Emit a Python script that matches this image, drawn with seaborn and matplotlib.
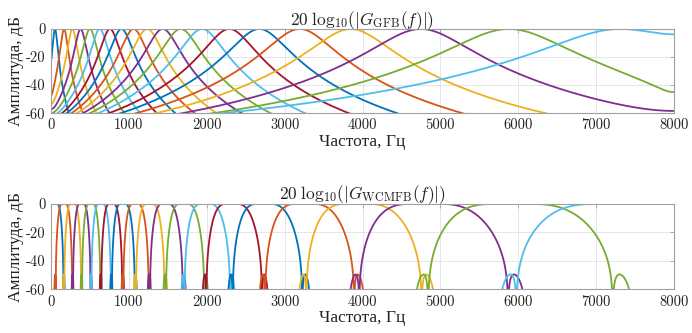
import numpy as np
import pandas as pd
import matplotlib
matplotlib.use("Agg")
import matplotlib.pyplot as plt
import seaborn as sns

# ---------------- data ----------------
fs_hz = 16000.0
gfb_centres_hz = [52, 168, 275, 380, 500, 625, 757, 905, 1060, 1235,
                  1435, 1665, 1940, 2290, 2675, 3195, 3850, 4750, 5880, 7285]
# WCMFB: 20 channels, warping coefficient
wcmfb_channels = 20
wcmfb_warp = 0.57
wcmfb_proto_len = 211
wcmfb_cutoff_bands = 0.58      # -6 dB point, in channel widths
wcmfb_window_power = 2.6       # sin^p taper of the prototype

xticks_hz = [0, 1000, 2000, 3000, 4000, 5000, 6000, 7000, 8000]
yticks_db = [-60, -40, -20, 0]
xlabel_text = "Частота, Гц"
ylabel_text = "Амплитуда, дБ"
title_top = r"$20\;\mathrm{log}_{10}(|G_{\mathrm{GFB}}(f)|)$"
title_bot = r"$20\;\mathrm{log}_{10}(|G_{\mathrm{WCMFB}}(f)|)$"

matlab_colors = ["#0072BD", "#D95319", "#EDB120", "#7E2F8E",
                 "#77AC30", "#4DBEEE", "#A2142F"]

# ---------------- responses ----------------
f = np.linspace(0, fs_hz / 2, 4001)


def gammatone_db(fc):
    b = 1.019 * (24.7 + 0.108 * fc)
    T = lambda d: (1 + 1j * d / b) ** -4
    H = np.zeros_like(f, dtype=complex)
    for m in (-1, 0, 1):
        g = f - m * fs_hz
        H += T(g - fc) + T(g + fc)
    mag = np.abs(H)
    mag /= mag.max()
    return 20 * np.log10(np.maximum(mag, 1e-12))


N = wcmfb_proto_len
L = (N - 1) // 2
n = np.arange(-L, L + 1)
t = np.arange(N)
win = np.sin(np.pi * t / (N - 1)) ** wcmfb_window_power
wc = wcmfb_cutoff_bands * np.pi / wcmfb_channels
proto = (wc / np.pi) * np.sinc(wc / np.pi * n) * win
proto /= proto.sum()


def P(theta):
    return np.cos(np.outer(theta, n)) @ proto


w = 2 * np.pi * f / fs_hz
lam = wcmfb_warp
w_warp = w + 2 * np.arctan2(lam * np.sin(w), 1 - lam * np.cos(w))


def wcmfb_db(k):
    wk = (k + 0.5) * np.pi / wcmfb_channels
    pw = P(w_warp - wk) ** 2 + P(w_warp + wk) ** 2 + P(w_warp - (2 * np.pi - wk)) ** 2
    return 10 * np.log10(np.maximum(pw, 1e-20))


rows_top, rows_bot = [], []
for i, fc in enumerate(gfb_centres_hz):
    rows_top.append(pd.DataFrame({"f": f, "db": np.maximum(gammatone_db(fc), -300), "band": i}))
for k in range(wcmfb_channels):
    rows_bot.append(pd.DataFrame({"f": f, "db": np.maximum(wcmfb_db(k), -300), "band": k}))
df_top = pd.concat(rows_top)
df_bot = pd.concat(rows_bot)

# ---------------- drawing ----------------
sns.set_theme(style="white")
plt.rcParams["font.family"] = ["cmr10", "Liberation Serif"]
plt.rcParams["mathtext.fontset"] = "cm"
plt.rcParams["axes.unicode_minus"] = False
plt.rcParams["axes.formatter.use_mathtext"] = False

fig = plt.figure(figsize=(6.92, 3.33), dpi=100)
ax1 = fig.add_axes([0.0737, 0.660, 0.9003, 0.253])
ax2 = fig.add_axes([0.0737, 0.131, 0.9003, 0.257])

pal = [matlab_colors[i % 7] for i in range(20)]
for ax, df, title in ((ax1, df_top, title_top), (ax2, df_bot, title_bot)):
    sns.lineplot(data=df, x="f", y="db", hue="band", palette=pal, ax=ax,
                 legend=False, estimator=None, linewidth=1.3, sort=False)
    ax.set_xlim(0, 8000)
    ax.set_ylim(-60, 0)
    ax.set_xticks(xticks_hz)
    ax.set_yticks(yticks_db)
    ax.set_xticklabels([str(v) for v in xticks_hz])
    ax.set_yticklabels([str(v) for v in yticks_db])
    ax.grid(True, color="#e2e2e2", linewidth=0.6)
    ax.set_axisbelow(True)
    for s in ax.spines.values():
        s.set_color("#a0a0a0")
        s.set_linewidth(0.8)
    ax.tick_params(direction="in", length=3, width=0.6, color="#a0a0a0",
                   labelsize=10.5, labelcolor="#222222", top=True, right=True, pad=4)
    ax.set_xlabel(xlabel_text, fontsize=12.5, family=["Liberation Serif"], labelpad=1, color="#222222")
    ax.set_ylabel(ylabel_text, fontsize=12.5, family=["Liberation Serif"], labelpad=1, color="#222222")
    ax.set_title(title, fontsize=12.5, pad=3, color="#222222")

fig.savefig("out.png", dpi=100)
